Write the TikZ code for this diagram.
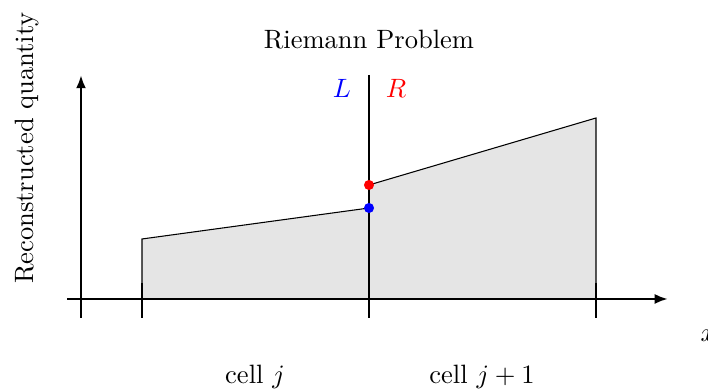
\documentclass[tikz,border=0pt]{standalone}
\usetikzlibrary{arrows.meta}
\begin{document}
\begin{tikzpicture}[x=0.377pt,y=-0.377pt,
  axis/.style={line width=1.1pt,-{Latex[length=5pt,width=3.8pt]}},
  tickline/.style={line width=1pt},
  recon/.style={fill=black!10,draw=black,line width=0.4pt},
  dot/.style={circle,inner sep=0pt,minimum size=3.8pt},
  lbl/.style={inner sep=0pt}]
\useasboundingbox (0,0) rectangle (708,389);
% reconstruction
\draw[recon] (142,299) -- (142,239) -- (369,208) -- (369,185) -- (596,118) -- (596,299) -- cycle;
% axes
\coordinate (xs) at (67,299);
\coordinate (xe) at (668,299);
\coordinate (ys) at (81,318);
\coordinate (ye) at (81,75);
\draw[axis] (xs) -- (xe);
\draw[axis] (ys) -- (ye);
% ticks
\foreach \t/\n in {142/a,596/b}{
  \coordinate (t\n1) at (\t,283);
  \coordinate (t\n2) at (\t,318);
  \draw[tickline] (t\n1) -- (t\n2);
}
% interface
\coordinate (it) at (369,75);
\coordinate (ib) at (369,318);
\draw[tickline] (it) -- (ib);
\node[dot,fill=red] (ur) at (369,185) {};
\node[dot,fill=blue] (ul) at (369,208) {};
% labels
\node[lbl] (title) at (369,40) {Riemann Problem};
\node[lbl,text=blue] (L) at (342,88) {$L$};
\node[lbl,text=red] (R) at (396,88) {$R$};
\node[lbl,rotate=90] (ylab) at (27,148) {Reconstructed quantity};
\node[lbl] (c1) at (255,377) {cell $j$};
\node[lbl] (c2) at (482,377) {cell $j+1$};
\node[lbl,anchor=west] (xlab) at (700,336) {$x$};
\end{tikzpicture}
\end{document}
